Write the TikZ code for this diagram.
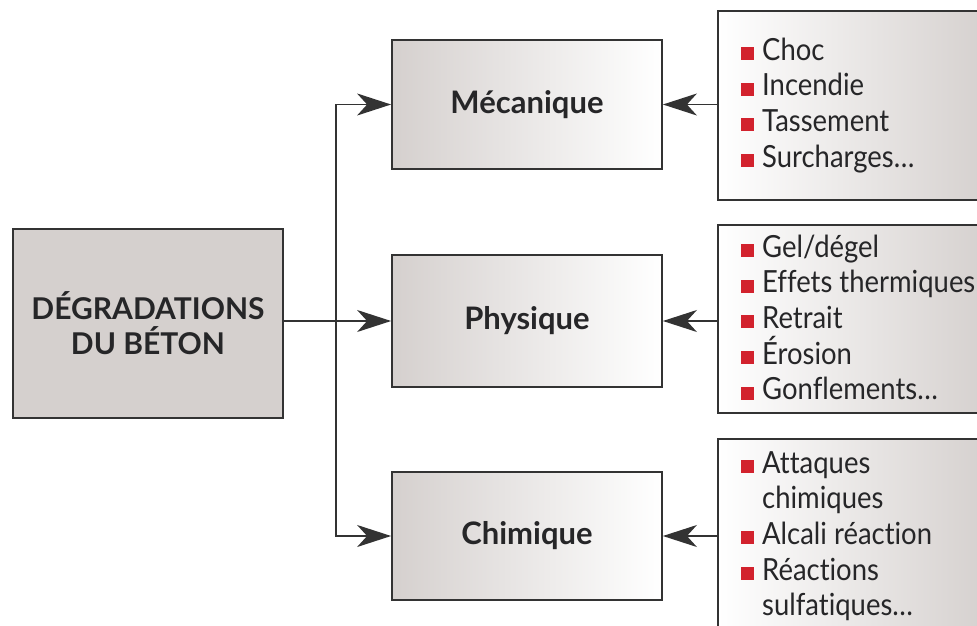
\documentclass[tikz,border=0pt]{standalone}
\usepackage{fontspec}
\setmainfont{Lato}
\newfontfamily\listfont[FakeStretch=0.9,Ligatures=NoCommon]{Lato}
\usetikzlibrary{arrows.meta}
\definecolor{boxgray}{HTML}{D5D0CE}
\definecolor{linegray}{HTML}{333333}
\definecolor{bulred}{HTML}{D2222D}
\definecolor{txt}{HTML}{262628}
\newcommand\bul{\makebox[21pt][l]{\textcolor{bulred}{\rule{13pt}{13pt}}}}
\newcommand\cnt{\hspace*{21pt}}
\begin{document}
\begin{tikzpicture}[x=1pt,y=-1pt,
  box/.style={draw=linegray, line width=1.8pt, inner sep=0, minimum width=270pt},
  midbox/.style={box, left color=boxgray, right color=white, text=txt,
    font=\fontsize{31}{35}\selectfont\bfseries},
  rbox/.style={box, left color=white, right color=boxgray, minimum width=272pt},
  listtxt/.style={inner sep=0, align=left, text=txt, anchor=north west,
    font=\listfont\fontsize{30.5}{35.6}\selectfont},
  conn/.style={draw=linegray, line width=1.5pt},
  arr/.style={conn, -{Stealth[length=34pt, width=22pt, inset=10pt]}}]
\path[use as bounding box, clip] (0,0) rectangle (977,626);
\fill[white] (0,0) rectangle (977,626);
% left box
\node[box, fill=boxgray, minimum height=189pt, align=center, text=txt,
  font=\fontsize{30}{35}\selectfont\bfseries] (deg) at (148,323.5) {DÉGRADATIONS\\DU BÉTON};
% middle boxes
\node[midbox, minimum height=129pt] (mec) at (527,104.5) {Mécanique};
\node[midbox, minimum height=132pt] (phy) at (527,321) {Physique};
\node[midbox, minimum height=128pt] (chi) at (527,536) {Chimique};
% right boxes
\node[rbox, minimum height=189pt] (r1) at (854,105.5) {};
\node[rbox, minimum height=188pt] (r2) at (854,319) {};
\node[rbox, minimum height=201pt] (r3) at (854,539.5) {};
% lists
\node[listtxt] (l1) at (741,34) {\rule{0pt}{26pt}\bul Choc\\ \bul Incendie\\ \bul Tassement\\ \bul Surcharges…};
\node[listtxt] (l2) at (741,231) {\rule{0pt}{26pt}\bul Gel/dégel\\ \bul Effets thermiques\\ \bul Retrait\\ \bul Érosion\\ \bul Gonflements…};
\node[listtxt] (l3) at (741,447) {\rule{0pt}{26pt}\bul Attaques\\ \cnt chimiques\\ \bul Alcali réaction\\ \bul Réactions\\ \cnt sulfatiques…};
% connectors
\coordinate (tr) at (336,0);
\draw[arr] (deg.east |- phy.west) -- (phy.west);
\draw[arr] (tr |- phy.west) -- (tr |- mec.west) -- (mec.west);
\draw[arr] (tr |- phy.west) -- (tr |- chi.west) -- (chi.west);
\draw[arr] (r1.west |- mec.east) -- (mec.east);
\draw[arr] (r2.west |- phy.east) -- (phy.east);
\draw[arr] (r3.west |- chi.east) -- (chi.east);
\end{tikzpicture}
\end{document}
